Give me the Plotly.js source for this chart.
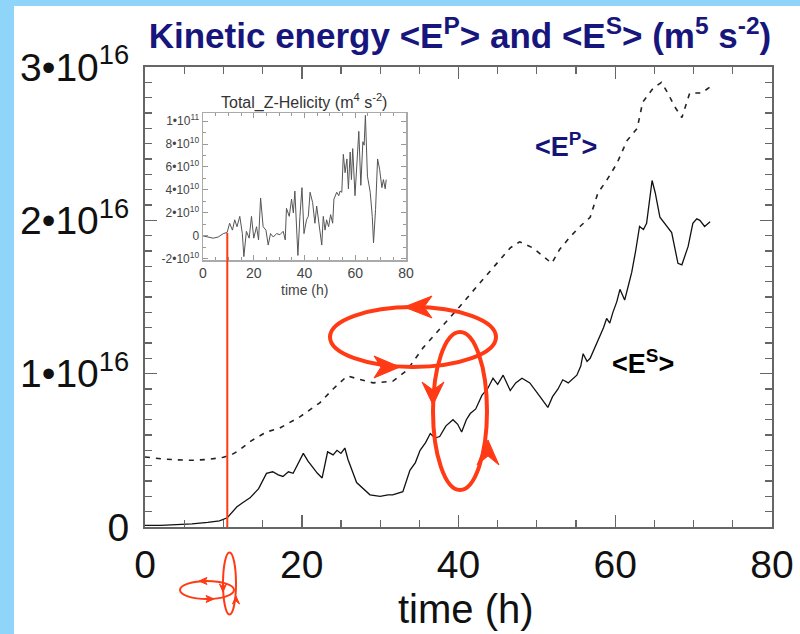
<!DOCTYPE html>
<html>
<head>
<meta charset="utf-8">
<script src="https://cdn.plot.ly/plotly-3.0.1.min.js"></script>
<style>html,body{margin:0;padding:0;background:#fff;}#chart{width:800px;height:634px;}</style>
</head>
<body>
<div id="chart"></div>
<script>
// ---- Data (energies in units of 1e16 m^5 s^-2, helicity in units of 1e10 m^4 s^-2) ----
const timeP = [0,2,4,6,8,10,11,12,13.5,15.5,17.2,19.8,22.3,24,25.8,27.5,29.1,31.6,33.4,35.5,37.6,40.2,42.7,44.4,46.6,47.8,49.5,51.9,52.9,54.2,55.5,56.8,57.8,58.9,60.2,61.5,62.8,63.5,64.8,65.9,66.7,67.6,68.5,69.5,71.0,72.1];
const energyP = [0.457,0.445,0.438,0.435,0.44,0.455,0.47,0.50,0.56,0.62,0.645,0.72,0.81,0.90,0.985,0.96,0.94,0.95,1.02,1.17,1.29,1.44,1.59,1.69,1.82,1.86,1.82,1.72,1.81,1.89,1.96,2.02,2.18,2.26,2.37,2.52,2.60,2.77,2.86,2.90,2.83,2.74,2.67,2.83,2.83,2.87];

const timeS = [0,2,4,6,8,9.5,10.5,11.7,12.5,13.4,14.5,15.5,16.3,17.0,17.6,18.3,18.9,19.6,20.2,20.8,21.4,22.0,22.6,23.3,24.0,24.5,25.0,25.5,25.9,27.0,28.7,30.0,31.0,31.6,32.9,33.8,34.5,35.1,35.8,36.4,37.0,37.6,38.4,39.3,39.9,40.4,41.0,41.5,42.2,43.0,43.7,44.4,45.0,45.7,46.6,47.3,48.1,49.1,50.4,51.4,52.0,52.7,53.3,54.0,55.1,55.6,55.9,56.4,56.8,57.4,58.0,58.5,58.9,59.3,59.7,60.2,60.6,61.2,61.7,62.1,62.6,63.1,63.6,64.0,64.7,65.1,65.7,66.4,67.2,68.0,68.5,69.3,69.9,70.4,70.8,71.4,72.1];
const energyS = [0.01,0.01,0.015,0.02,0.03,0.04,0.06,0.13,0.16,0.19,0.25,0.35,0.36,0.34,0.33,0.36,0.35,0.42,0.48,0.43,0.39,0.35,0.32,0.49,0.47,0.50,0.48,0.515,0.44,0.29,0.21,0.20,0.21,0.21,0.23,0.37,0.42,0.50,0.55,0.61,0.58,0.59,0.66,0.70,0.67,0.62,0.70,0.74,0.77,0.86,0.90,0.97,0.93,0.99,0.89,0.94,0.97,0.94,0.85,0.78,0.85,0.90,0.96,0.94,0.99,1.05,1.13,1.08,1.10,1.17,1.24,1.30,1.36,1.33,1.40,1.47,1.55,1.48,1.58,1.66,1.80,1.96,1.94,1.98,2.26,2.18,2.02,1.97,1.92,1.72,1.71,1.83,1.98,2.01,2.00,1.96,1.99];

const timeH = [0,2,4,6,8,9.5,10.5,11.6,12.5,13.4,14.5,15.5,16.1,17.1,18.2,19.1,20.0,21.1,21.9,22.7,23.7,24.8,25.7,26.6,27.7,29.0,30.3,31.6,32.4,32.9,34.0,34.9,35.6,36.2,36.9,37.4,38.2,39.0,39.8,40.8,41.5,42.2,43.2,44.1,44.8,46.1,46.8,47.4,48.1,48.7,49.5,50.3,51.1,51.6,52.7,53.5,54.0,54.7,55.3,56.0,56.7,57.3,58.0,58.5,59.0,59.9,60.6,61.4,62.2,63.0,63.5,64.0,64.8,65.9,66.7,67.2,68.0,68.8,69.6,70.5,71.1,71.8,72.2];
const helicity = [0,-0.1,-0.2,-0.1,0.2,0.3,1.1,0.5,1.4,0.8,1.7,0.2,-1.8,0.4,-0.2,1.7,-0.2,0.8,-0.35,3.3,0.8,0.5,-0.8,0.2,-0.1,0.2,0.1,0.4,-0.35,2.4,1.7,3.2,2.0,3.9,0.5,-1.7,1.7,4.2,0.2,1.4,1.7,3.8,2.9,1.1,2.6,0.2,-0.8,1.7,0.5,1.4,0.8,1.85,1.1,3.2,3.8,3.5,3.9,3.8,7.1,5.5,6.7,4.1,7.3,4.9,7.6,3.5,5.8,9.1,4.4,8.2,7.9,10.5,5.2,3.8,1.7,-0.6,2.3,6.7,5.8,4.2,4.9,4.1,4.9];

const xTickVals = [0,20,40,60,80];
const xTickText = ['0','20','40','60','80'];
const yTickVals = [0,1,2,3];
const yTickText = ['0','1•10<sup>16</sup>','2•10<sup>16</sup>','3•10<sup>16</sup>'];
const insetYTickVals = [-2,0,2,4,6,8,10];
const insetYTickText = ['-2•10<sup>10</sup>','0','2•10<sup>10</sup>','4•10<sup>10</sup>','6•10<sup>10</sup>','8•10<sup>10</sup>','1•10<sup>11</sup>'];

// ---- pixel -> paper helpers (plot area: x 145..772, y 67..527) ----
const L = 145, R = 772, T = 67, B = 527;
const X = px => (px - L) / (R - L);
const Y = py => (B - py) / (B - T);
const RED = '#ff3a14';

function ellipse(cx, cy, rx, ry, w) {
  return {type:'circle', xref:'paper', yref:'paper', x0:X(cx-rx), x1:X(cx+rx), y0:Y(cy+ry), y1:Y(cy-ry),
          line:{color:RED, width:w}, layer:'above'};
}
function tri(pts) {
  const d = pts.map((p,i)=>(i?'L':'M')+X(p[0]).toFixed(5)+','+Y(p[1]).toFixed(5)).join(' ')+' Z';
  return {type:'path', xref:'paper', yref:'paper', path:d, fillcolor:RED, line:{color:RED, width:1}, layer:'above'};
}

const traces = [
  {x: timeP, y: energyP, type:'scatter', mode:'lines', line:{color:'#222', width:1.6, dash:'5px,6px'}, xaxis:'x', yaxis:'y', hoverinfo:'skip'},
  {x: timeS, y: energyS, type:'scatter', mode:'lines', line:{color:'#111', width:1.3}, xaxis:'x', yaxis:'y', hoverinfo:'skip'},
  {x: timeH, y: helicity, type:'scatter', mode:'lines', line:{color:'#555', width:1}, xaxis:'x2', yaxis:'y2', hoverinfo:'skip'}
];

const shapes = [
  {type:'rect', xref:'paper', yref:'paper', x0:X(14), x1:X(800), y0:Y(634), y1:Y(6), fillcolor:'#ffffff', line:{width:0}, layer:'below'},
  {type:'line', xref:'x', yref:'paper', x0:10.5, x1:10.5, y0:0, y1:Y(233), line:{color:RED, width:2}, layer:'above'},
  ellipse(413, 337, 83, 30, 4),
  ellipse(460, 411, 27, 79, 4),
  tri([[404,307],[432,296],[424,307],[432,318]]),
  tri([[400,367],[374,356],[381,367],[374,378]]),
  tri([[433,405],[422,382],[433,390],[444,382]]),
  tri([[488,440],[477,465],[488,456],[499,465]]),
  ellipse(207, 590, 27, 9, 2),
  ellipse(229.5, 583.5, 6.5, 31, 2),
  tri([[199,581],[207,577.5],[205,581],[207,584.5]]),
  tri([[214,599],[206,595.5],[208,599],[206,602.5]]),
  tri([[223,592],[219.5,584],[223,587],[226.5,584]]),
  tri([[236,596],[232.5,604],[236,601],[239.5,604]])
];

const annotations = [
  {text:'time (h)', xref:'paper', yref:'paper', x:X(466), y:Y(609), showarrow:false, xanchor:'center', yanchor:'middle',
   font:{family:'Liberation Sans, Arial', size:40, color:'#111'}},
  {text:'&lt;E<sup>P</sup>&gt;', xref:'paper', yref:'paper', x:X(566), y:Y(145), showarrow:false, xanchor:'center', yanchor:'middle',
   font:{family:'Liberation Sans, Arial', size:27, color:'#141478', weight:'bold'}},
  {text:'&lt;E<sup>S</sup>&gt;', xref:'paper', yref:'paper', x:X(643), y:Y(362), showarrow:false, xanchor:'center', yanchor:'middle',
   font:{family:'Liberation Sans, Arial', size:27, color:'#000', weight:'bold'}},
  {text:'Total_Z-Helicity (m<sup>4</sup> s<sup>-2</sup>)', xref:'paper', yref:'paper', x:X(304), y:Y(101), showarrow:false, xanchor:'center', yanchor:'middle',
   font:{family:'Liberation Sans, Arial', size:16, color:'#333'}},
  {text:'time (h)', xref:'paper', yref:'paper', x:X(304), y:Y(290), showarrow:false, xanchor:'center', yanchor:'middle',
   font:{family:'Liberation Sans, Arial', size:14, color:'#444'}}
];

const layout = {
  width:800, height:634,
  margin:{l:L, r:800-R, t:T, b:634-B, pad:0},
  paper_bgcolor:'#8fd5fa',
  plot_bgcolor:'#ffffff',
  showlegend:false,
  title:{text:'Kinetic energy &lt;E<sup>P</sup>&gt; and &lt;E<sup>S</sup>&gt; (m<sup>5</sup> s<sup>-2</sup>)',
         x:460/800, xanchor:'center', y:1-36/634, yanchor:'middle', xref:'container', yref:'container',
         font:{family:'Liberation Sans, Arial', size:35, color:'#16167c', weight:'bold'}},
  xaxis:{domain:[0,1], range:[0,80], tickvals:xTickVals, ticktext:xTickText, ticks:'inside', ticklen:12, tickwidth:1.5, tickcolor:'#666',
         minor:{dtick:5, tick0:0, ticks:'inside', ticklen:7, tickwidth:1.2, tickcolor:'#666'},
         showline:true, linecolor:'#666', linewidth:2, mirror:'allticks', showgrid:false, zeroline:false,
         ticklabelstandoff:2,
         tickfont:{family:'Liberation Sans, Arial', size:39, color:'#111'}},
  yaxis:{domain:[0,1], range:[0,3], tickvals:yTickVals, ticktext:yTickText, ticks:'inside', ticklen:12, tickwidth:1.5, tickcolor:'#666',
         minor:{dtick:0.1, tick0:0, ticks:'inside', ticklen:7, tickwidth:1.2, tickcolor:'#666'},
         showline:true, linecolor:'#666', linewidth:2, mirror:'allticks', showgrid:false, zeroline:false,
         ticklabelstandoff:6,
         tickfont:{family:'Liberation Sans, Arial', size:39, color:'#111'}},
  xaxis2:{domain:[X(203), X(406)], anchor:'y2', range:[0,80], tickvals:xTickVals, ticktext:xTickText, ticks:'inside', ticklen:5, tickcolor:'#999',
          minor:{dtick:5, ticks:'inside', ticklen:3, tickcolor:'#999'},
          showline:true, linecolor:'#aaa', linewidth:1.5, mirror:'allticks', showgrid:false, zeroline:false,
          tickfont:{family:'Liberation Sans, Arial', size:14, color:'#444'}},
  yaxis2:{domain:[Y(260), Y(113)], anchor:'x2', range:[-2.1,10.7], tickvals:insetYTickVals, ticktext:insetYTickText, ticks:'inside', ticklen:5, tickcolor:'#999',
          minor:{dtick:1, ticks:'inside', ticklen:3, tickcolor:'#999'},
          showline:true, linecolor:'#aaa', linewidth:1.5, mirror:'allticks', showgrid:false, zeroline:false,
          tickfont:{family:'Liberation Sans, Arial', size:12, color:'#444'}},
  shapes:shapes,
  annotations:annotations
};

Plotly.newPlot('chart', traces, layout, {staticPlot:true, displayModeBar:false});
</script>
</body>
</html>
